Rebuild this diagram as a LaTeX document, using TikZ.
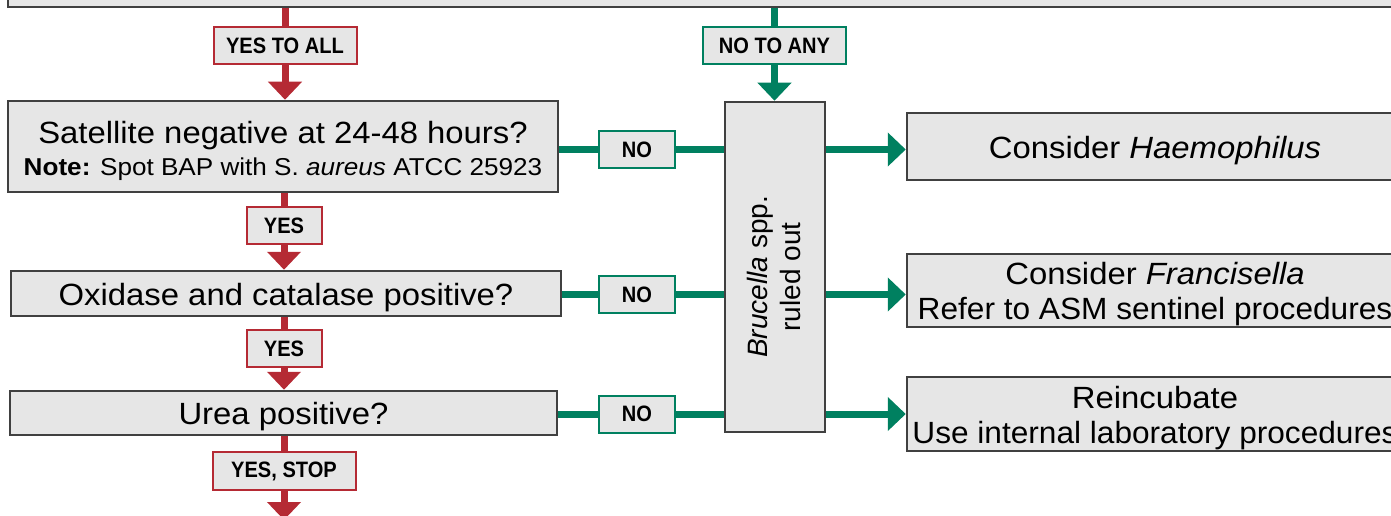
\documentclass[tikz,border=0pt]{standalone}
\usepackage{fontspec}
\setmainfont{Liberation Sans}[FakeStretch=1.07]
\newfontfamily\narrowfont{Liberation Sans}[FakeStretch=1.03]
\newfontfamily\lblfont{Liberation Sans}[FakeStretch=0.9]
\newfontfamily\arialfont{Liberation Sans}
\usetikzlibrary{arrows.meta}
\definecolor{redc}{RGB}{181,42,52}
\definecolor{grnc}{RGB}{0,128,96}
\definecolor{boxfill}{RGB}{230,230,230}
\definecolor{boxline}{RGB}{64,64,64}
\tikzset{
  box/.style={draw=boxline, fill=boxfill, line width=2.5pt, inner sep=0pt},
  txt/.style={inner sep=0pt, align=center, font=\fontsize{30.7}{35}\selectfont},
  lbl/.style={fill=boxfill, line width=2pt, inner sep=0pt, minimum height=37pt,
    font=\lblfont\bfseries\fontsize{22.3}{24}\selectfont},
  redlbl/.style={lbl, draw=redc},
  grnlbl/.style={lbl, draw=grnc},
  redln/.style={draw=redc, line width=7pt},
  grnln/.style={draw=grnc, line width=7pt},
  redarr/.style={redln, -{Triangle[width=33pt,length=18pt]}},
  grnarr/.style={grnln, -{Triangle[width=33pt,length=18pt]}},
}
\begin{document}
\begin{tikzpicture}[x=1pt,y=-1pt]
\useasboundingbox (0,0) rectangle (1391,516);
% main boxes
\node[box, minimum width=1412pt, minimum height=67pt] (top) at (714,-26.5) {};
\node[box, minimum width=550pt, minimum height=91pt] (sat) at (283,146.5) {};
\node[txt] (satt) at ([yshift=-4pt]sat.center)
  {Satellite negative at 24-48 hours?\\[-3pt]{\fontsize{24.4}{28}\selectfont\textbf{Note:} Spot BAP with S. \textit{aureus} ATCC 25923}};
\node[box, minimum width=550pt, minimum height=45pt] (oxi) at (286,293.5) {};
\node[txt] (oxit) at ([yshift=-4pt]oxi.center) {Oxidase and catalase positive?};
\node[box, minimum width=547pt, minimum height=44pt] (urea) at (283.5,413) {};
\node[txt] (ureat) at ([yshift=-3.5pt]urea.center) {Urea positive?};
\node[box, minimum width=100pt, minimum height=330pt] (bru) at (775,267) {};
\node[rotate=90, align=center, inner sep=0pt, font=\arialfont\fontsize{28}{33}\selectfont] (brut) at ([yshift=-10pt,xshift=-1.5pt]bru.center)
  {\textit{Brucella} spp.\\ruled out};
\node[box, minimum width=496pt, minimum height=67pt] (hae) at (1155,146.5) {};
\node[txt] (haet) at ([yshift=-4.5pt]hae.center) {Consider \textit{Haemophilus}};
\node[box, minimum width=496pt, minimum height=73pt] (fra) at (1155,290.5) {};
\node[txt] (frat) at ([yshift=-3.5pt]fra.center) {Consider \textit{Francisella}\\{\narrowfont Refer to ASM sentinel procedures}};
\node[box, minimum width=496pt, minimum height=74pt] (rei) at (1155,414) {};
\node[txt] (reit) at ([yshift=-4pt]rei.center) {Reincubate\\{\narrowfont Use internal laboratory procedures}};
% labels
\node[redlbl, minimum width=143pt] (yta) at (285,45.5) {YES TO ALL};
\node[grnlbl, minimum width=143pt] (nta) at (774.5,45.5) {NO TO ANY};
\node[redlbl, minimum width=75pt] (yes1) at (284,225.5) {YES};
\node[redlbl, minimum width=75pt] (yes2) at (284,348.5) {YES};
\node[redlbl, minimum width=143pt, minimum height=38pt] (yst) at (284,471) {YES, STOP};
\node[grnlbl, minimum width=76pt] (no1) at (637,149.5) {NO};
\node[grnlbl, minimum width=76pt] (no2) at (637,294.5) {NO};
\node[grnlbl, minimum width=76pt] (no3) at (637,414) {NO};
\coordinate (endc) at (284,520);
% red connectors
\draw[redln] (top.south -| yta) -- (yta.north);
\draw[redarr] (yta.south) -- (sat.north -| yta);
\draw[redln] (sat.south -| yes1) -- (yes1.north);
\draw[redarr] (yes1.south) -- (oxi.north -| yes1);
\draw[redln] (oxi.south -| yes2) -- (yes2.north);
\draw[redarr] (yes2.south) -- (urea.north -| yes2);
\draw[redln] (urea.south -| yst) -- (yst.north);
\draw[redarr] (yst.south) -- (endc);
% green connectors
\draw[grnln] (top.south -| nta) -- (nta.north);
\draw[grnarr] (nta.south) -- (bru.north -| nta);
\draw[grnln] (sat.east |- no1) -- (no1.west);
\draw[grnln] (no1.east) -- (bru.west |- no1);
\draw[grnln] (oxi.east |- no2) -- (no2.west);
\draw[grnln] (no2.east) -- (bru.west |- no2);
\draw[grnln] (urea.east |- no3) -- (no3.west);
\draw[grnln] (no3.east) -- (bru.west |- no3);
\draw[grnarr] (bru.east |- no1) -- (hae.west |- no1);
\draw[grnarr] (bru.east |- no2) -- (fra.west |- no2);
\draw[grnarr] (bru.east |- no3) -- (rei.west |- no3);
\end{tikzpicture}
\end{document}
